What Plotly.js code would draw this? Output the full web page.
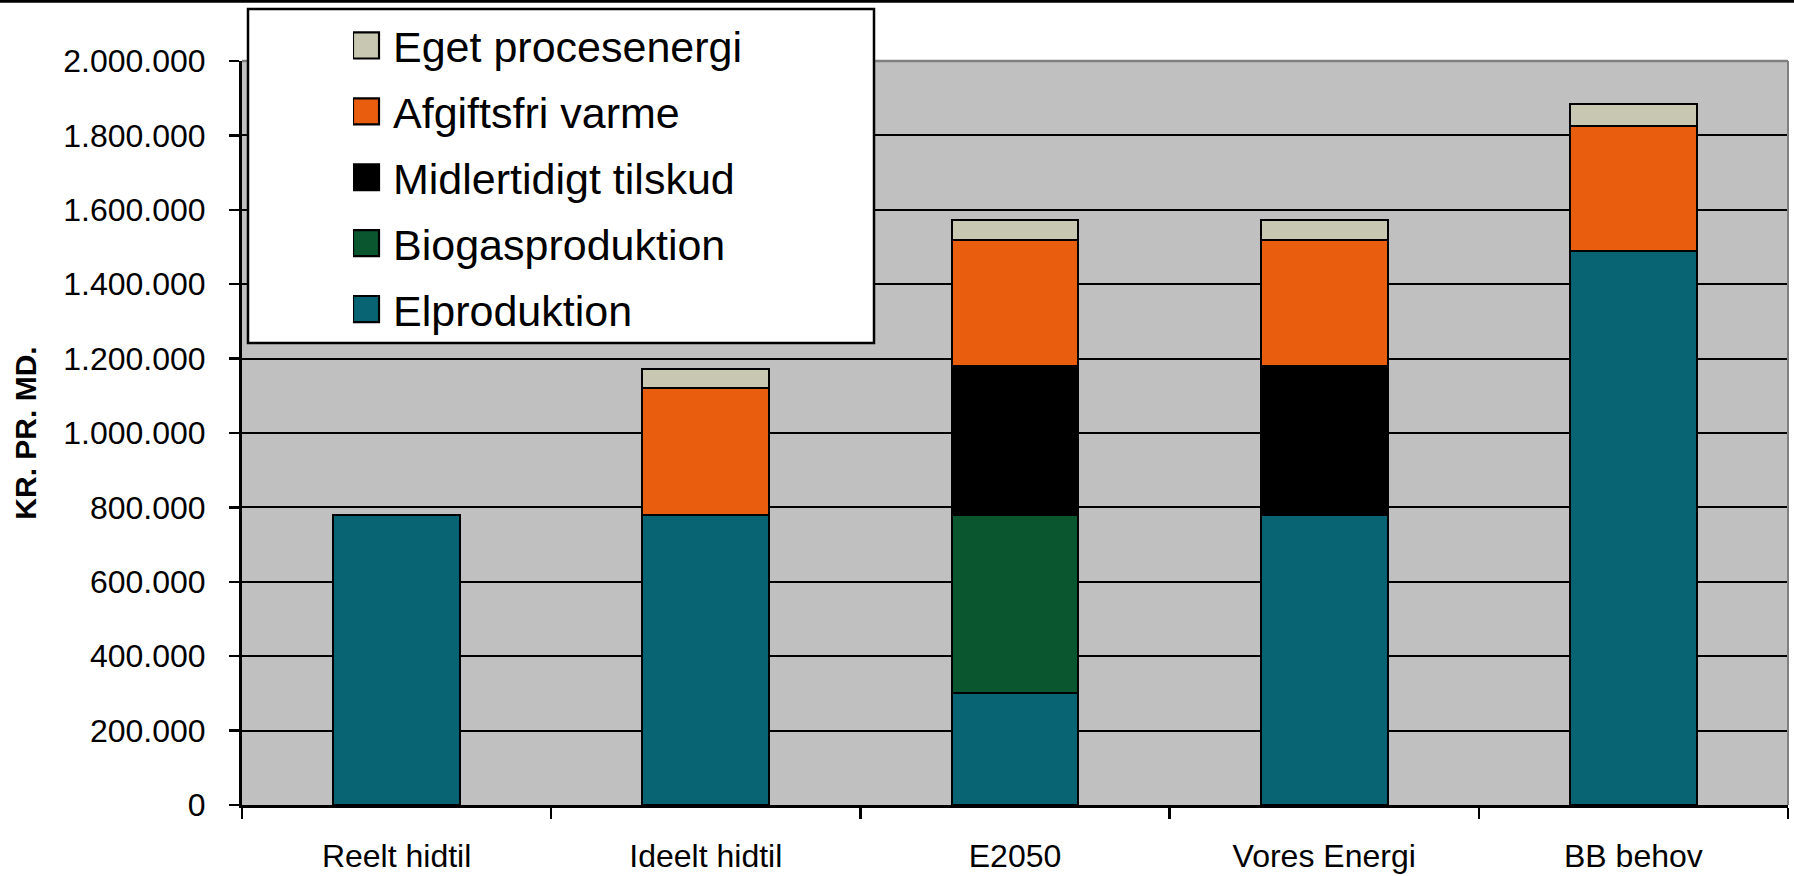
<!DOCTYPE html>
<html>
<head>
<meta charset="utf-8">
<script src="https://cdn.plot.ly/plotly-3.0.1.min.js"></script>
<style>html,body{margin:0;padding:0;background:#fff;}#chart{width:1794px;height:876px;}</style>
</head>
<body>
<div id="chart"></div>
<script>
// ---- data ----
var categories = ['Reelt hidtil', 'Ideelt hidtil', 'E2050', 'Vores Energi', 'BB behov'];
var elproduktion = [780000, 780000, 300000, 780000, 1490000];
var biogasproduktion = [null, null, 480000, null, null];
var midlertidigtTilskud = [null, null, 400000, 400000, null];
var afgiftsfriVarme = [null, 340000, 340000, 340000, 335000];
var egetProcesenergi = [null, 52000, 52000, 52000, 60000];
var seriesNames = ['Elproduktion', 'Biogasproduktion', 'Midlertidigt tilskud', 'Afgiftsfri varme', 'Eget procesenergi'];
var yTitle = 'KR. PR. MD.';

var colors = ['#086472', '#0A562E', '#000000', '#E95D0F', '#C8C8B2'];
var seriesValues = [elproduktion, biogasproduktion, midlertidigtTilskud, afgiftsfriVarme, egetProcesenergi];

var FONT = 'Liberation Sans, Arial, sans-serif';

var traces = seriesValues.map(function (vals, i) {
  return {
    type: 'bar',
    name: seriesNames[i],
    x: categories,
    y: vals,
    width: 0.41,
    legendgroup: 'g' + i,
    legendrank: 1000 - i,
    marker: {color: colors[i], line: {color: '#000000', width: 2}},
    hoverinfo: 'skip'
  };
});

// plot area in px: left 242, right 1788, top 61, bottom 805
var M = {l: 242, r: 6, t: 61, b: 71};
var PH = 876 - M.t - M.b;
var PW = 1794 - M.l - M.r;
function px2x(p) { return (p - M.l) / PW; }
function px2y(p) { return (876 - M.b - p) / PH; }

var layout = {
  width: 1794,
  height: 876,
  margin: M,
  paper_bgcolor: '#ffffff',
  plot_bgcolor: '#C0C0C0',
  separators: ',.',
  barmode: 'stack',
  showlegend: true,
  font: {family: FONT, color: '#000000'},
  legend: {
    x: px2x(353), xanchor: 'left',
    y: px2y(11), yanchor: 'top',
    bgcolor: 'rgba(0,0,0,0)',
    borderwidth: 0,
    traceorder: 'grouped',
    tracegroupgap: 7,
    font: {family: FONT, size: 43, color: '#000000'}
  },
  xaxis: {
    type: 'category',
    range: [-0.5, 4.5],
    showline: true, linecolor: '#000000', linewidth: 3,
    ticks: 'outside', tickson: 'boundaries', ticklen: 11, tickwidth: 2.5, tickcolor: '#000000',
    showgrid: false, zeroline: false,
    tickfont: {family: FONT, size: 32, color: '#000000'},
    ticklabelstandoff: 21
  },
  yaxis: {
    range: [0, 2000000],
    dtick: 200000, tick0: 0,
    tickformat: ',d',
    showline: true, linecolor: '#000000', linewidth: 3,
    ticks: 'outside', ticklen: 10, tickwidth: 2.5, tickcolor: '#000000',
    showgrid: true, gridcolor: '#000000', gridwidth: 2,
    zeroline: false,
    tickfont: {family: FONT, size: 32, color: '#000000'},
    ticklabelstandoff: 17,
    automargin: true,
    title: {text: yTitle, standoff: 18, font: {family: FONT, size: 30, color: '#000000', weight: 'bold'}}
  },
  shapes: [
    // plot area border top / right (gray)
    {type: 'line', xref: 'paper', yref: 'paper', x0: 0, x1: 1, y0: 1, y1: 1, line: {color: '#808080', width: 2.5}, layer: 'above'},
    {type: 'line', xref: 'paper', yref: 'paper', x0: 1, x1: 1, y0: 0, y1: 1, line: {color: '#808080', width: 2}, layer: 'above'},
    // legend box
    {type: 'rect', xref: 'paper', yref: 'paper', x0: px2x(248), x1: px2x(874), y0: px2y(343), y1: px2y(9),
     fillcolor: '#ffffff', line: {color: '#000000', width: 2.5}, layer: 'above'},
    // top border line of the chart
    {type: 'line', xref: 'paper', yref: 'paper', x0: px2x(0), x1: px2x(1794), y0: px2y(1.3), y1: px2y(1.3), line: {color: '#000000', width: 3}, layer: 'above'}
  ]
};

Plotly.newPlot('chart', traces, layout, {staticPlot: true, displayModeBar: false}).then(function (gd) {
  var paths = gd.querySelectorAll('.legend .legendpoints path');
  paths.forEach(function (p) {
    p.setAttribute('transform', 'translate(13,0) scale(2.17)');
    p.style.strokeWidth = '1px';
  });
});
</script>
</body>
</html>
